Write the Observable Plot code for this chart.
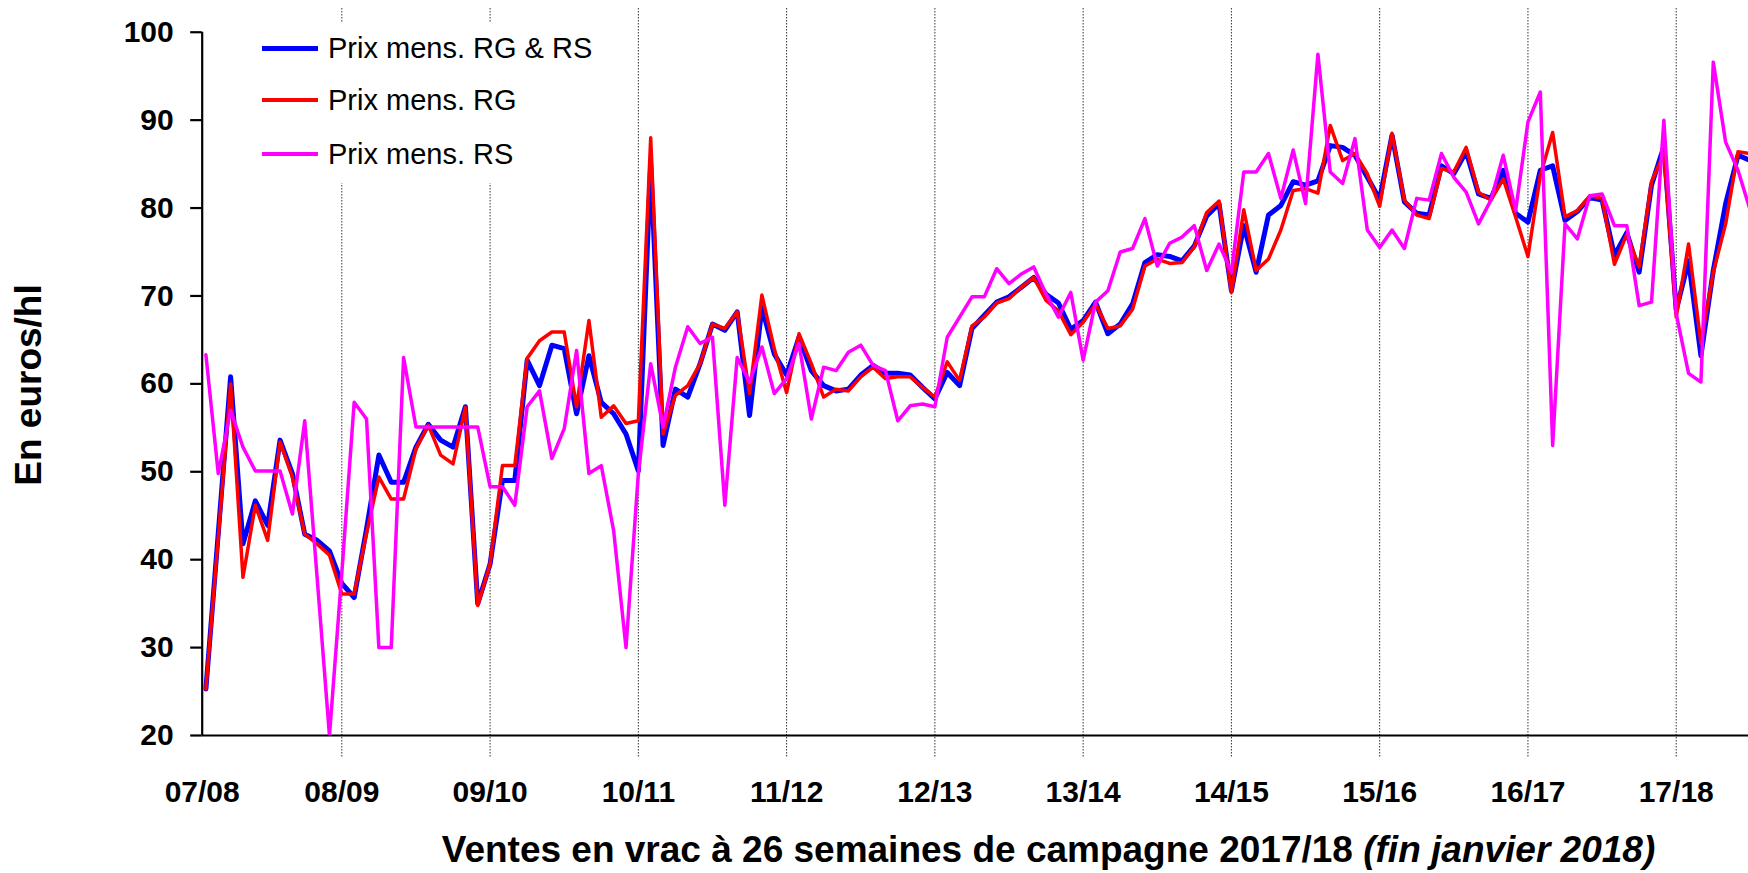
<!DOCTYPE html>
<html>
<head>
<meta charset="utf-8">
<script src="https://cdn.jsdelivr.net/npm/d3@7"></script>
<script src="https://cdn.jsdelivr.net/npm/@observablehq/plot@0.6"></script>
<style>
  html, body { margin: 0; padding: 0; background: #fff; }
  #wrap { position: relative; width: 1748px; height: 873px; overflow: hidden; font-family: "Liberation Sans", Arial, sans-serif; }
  #chart { position: absolute; left: 0; top: 0; }
  #legend { position: absolute; left: 252px; top: 23px; width: 355px; height: 160px; background: #fff; }
  .sw { position: absolute; left: 10px; width: 56px; }
  .lt { position: absolute; left: 76px; font-size: 29px; line-height: 29px; white-space: nowrap; color: #000; }
  #ytitle { position: absolute; left: 28px; top: 385px; transform: translate(-50%, -50%) rotate(-90deg); font-size: 37px; line-height: 37px; font-weight: bold; white-space: nowrap; }
  #xtitle { position: absolute; left: 0; width: 2097px; top: 831px; text-align: center; font-size: 37px; line-height: 37px; font-weight: bold; white-space: nowrap; }
</style>
</head>
<body>
<div id="wrap">
  <div id="chart"></div>
  <div id="legend"></div>
  <div id="ytitle"></div>
  <div id="xtitle"></div>
</div>
<script>
// Campaign labels (one per marketing year)
const campagnes = ["07/08","08/09","09/10","10/11","11/12","12/13","13/14","14/15","15/16","16/17","17/18"];
const yTicks = [20, 30, 40, 50, 60, 70, 80, 90, 100];

// Monthly prices (euros/hl), August 2007 .. January 2018
const prixRGRS = [
  25.3, 43.0, 60.8, 41.8, 46.7, 43.9, 53.6, 49.8, 42.9, 42.2, 41.0, 37.3,
  35.7, 43.5, 51.9, 48.8, 48.8, 52.8, 55.4, 53.6, 52.8, 57.4, 35.0, 39.5,
  49.0, 49.0, 62.7, 59.8, 64.4, 64.0, 56.6, 63.2, 57.9, 56.6, 54.3, 50.1,
  85.0, 53.0, 59.4, 58.5, 62.3, 66.8, 66.1, 68.2, 56.4, 68.7, 63.4, 61.0,
  65.3, 61.5, 59.8, 59.2, 59.4, 61.0, 62.1, 61.2, 61.2, 61.0, 59.6, 58.3,
  61.3, 59.8, 66.3, 67.8, 69.3, 69.9, 71.0, 72.1, 70.2, 69.2, 66.2, 67.2,
  69.3, 65.7, 66.8, 69.1, 73.8, 74.7, 74.5, 74.0, 75.7, 79.1, 80.5, 70.6,
  78.0, 72.7, 79.2, 80.3, 83.0, 82.6, 83.1, 87.1, 86.9, 86.0, 83.5, 81.0,
  88.3, 80.7, 79.4, 79.2, 84.8, 83.9, 86.4, 81.6, 81.1, 84.3, 79.4, 78.4,
  84.3, 84.8, 78.6, 79.6, 81.2, 80.9, 74.6, 77.2, 72.7, 82.6, 87.0, 68.4,
  74.0, 63.2, 72.9, 80.5, 86.0, 85.4
];
const prixRG = [
  25.3, 42.5, 60.0, 38.0, 46.2, 42.2, 53.4, 49.4, 42.9, 41.8, 40.5, 36.1,
  36.1, 43.0, 49.4, 46.9, 46.9, 52.6, 55.3, 51.9, 50.9, 57.3, 34.8, 39.5,
  50.7, 50.7, 62.9, 64.9, 65.9, 65.9, 57.4, 67.2, 56.2, 57.5, 55.5, 55.8,
  88.0, 54.3, 58.7, 59.8, 62.3, 66.8, 66.3, 68.2, 58.9, 70.1, 64.0, 59.0,
  65.7, 62.3, 58.5, 59.4, 59.2, 60.8, 61.9, 60.6, 60.8, 60.8, 59.6, 58.5,
  62.5, 60.4, 66.6, 67.6, 69.2, 69.7, 71.0, 72.1, 69.5, 68.3, 65.6, 67.0,
  69.1, 66.3, 66.6, 68.5, 73.4, 74.2, 73.7, 73.8, 75.6, 79.5, 80.8, 70.4,
  79.8, 72.9, 74.2, 77.5, 82.0, 82.2, 81.7, 89.4, 85.4, 86.2, 83.9, 80.2,
  88.5, 80.9, 79.2, 78.8, 84.5, 84.1, 86.9, 81.8, 80.9, 83.3, 79.0, 74.5,
  83.7, 88.6, 79.0, 79.7, 81.4, 81.1, 73.6, 77.0, 73.3, 83.0, 86.2, 67.6,
  75.9, 64.6, 72.7, 78.2, 86.4, 86.2
];
const prixRS = [
  63.3, 49.8, 57.0, 52.8, 50.1, 50.1, 50.1, 45.2, 55.8, 38.0, 20.0, 38.5,
  57.9, 56.0, 30.0, 30.0, 63.0, 55.1, 55.1, 55.1, 55.1, 55.1, 55.1, 48.3,
  48.3, 46.2, 57.4, 59.2, 51.5, 54.9, 63.8, 49.8, 50.7, 43.3, 30.0, 49.8,
  62.3, 55.1, 61.9, 66.5, 64.6, 65.3, 46.2, 63.0, 60.2, 64.2, 58.9, 60.6,
  64.6, 56.0, 61.9, 61.5, 63.6, 64.4, 62.1, 61.5, 55.8, 57.5, 57.7, 57.4,
  65.3, 67.6, 69.9, 69.9, 73.1, 71.4, 72.5, 73.3, 70.2, 67.6, 70.4, 62.7,
  69.3, 70.6, 75.0, 75.4, 78.8, 73.4, 76.0, 76.7, 78.0, 72.9, 75.9, 72.7,
  84.1, 84.1, 86.2, 81.1, 86.6, 80.5, 97.5, 84.1, 82.8, 87.9, 77.5, 75.5,
  77.5, 75.4, 81.1, 80.9, 86.2, 83.5, 81.8, 78.2, 80.9, 86.0, 79.7, 89.8,
  93.2, 53.0, 78.2, 76.5, 81.4, 81.6, 78.0, 78.0, 68.9, 69.3, 90.0, 68.0,
  61.2, 60.2, 96.6, 87.5, 84.3, 79.7
];

const series = [
  {name: "Prix mens. RG & RS", values: prixRGRS, color: "#0000ff", width: 5},
  {name: "Prix mens. RG",      values: prixRG,   color: "#ff0000", width: 3.5},
  {name: "Prix mens. RS",      values: prixRS,   color: "#ff00ff", width: 3.5}
];

const MONTHS = 12;
const xStart = -0.3;
const xEnd = 124.85;
// campaign boundary (July of each campaign) as month index
const tickPos = campagnes.map((c, k) => k === 0 ? xStart : MONTHS * k - 1);
const gridPos = tickPos.slice(1);
const labelOf = new Map(tickPos.map((p, k) => [p, campagnes[k]]));

const lineMarks = series.map(s =>
  Plot.line(s.values.map((v, i) => ({i, v})), {
    x: "i", y: "v", stroke: s.color, strokeWidth: s.width,
    strokeLinejoin: "round", strokeLinecap: "round", clip: true
  })
);

const chart = Plot.plot({
  width: 1748,
  height: 810,
  marginTop: 8,
  marginBottom: 75,
  marginLeft: 201.7,
  marginRight: 0,
  style: {fontFamily: "'Liberation Sans', Arial, sans-serif", background: "transparent", color: "#000"},
  x: {domain: [xStart, xEnd]},
  y: {domain: [20, 102.7]},
  marks: [
    Plot.ruleX(gridPos, {stroke: "#333", strokeWidth: 1, strokeDasharray: "1.5,1.5", insetBottom: -22}),
    Plot.ruleY([20], {stroke: "#000", strokeWidth: 2.2}),
    Plot.ruleX([xStart], {y1: 20, y2: 100, stroke: "#000", strokeWidth: 2.2}),
    Plot.axisY({ticks: yTicks, tickSize: 11.5, tickPadding: 17, fontSize: 30, fontWeight: "bold", label: null, strokeWidth: 2.2}),
    Plot.axisX({ticks: tickPos, tickFormat: d => labelOf.get(d), tickSize: 0, tickPadding: 45, fontSize: 30, fontWeight: "bold", label: null}),
    ...lineMarks
  ]
});
document.getElementById("chart").appendChild(chart);

// Legend (inside plot, top-left, white box)
const legend = document.getElementById("legend");
const rowCenters = [25, 77, 131];
series.forEach((s, k) => {
  const sw = document.createElement("div");
  sw.className = "sw";
  sw.style.background = s.color;
  sw.style.height = s.width + "px";
  sw.style.top = (rowCenters[k] - s.width / 2) + "px";
  legend.appendChild(sw);
  const t = document.createElement("div");
  t.className = "lt";
  t.textContent = s.name;
  t.style.top = (rowCenters[k] - 14.5) + "px";
  legend.appendChild(t);
});

document.getElementById("ytitle").textContent = "En euros/hl";
const xt = document.getElementById("xtitle");
xt.append("Ventes en vrac à 26 semaines de campagne 2017/18 ");
const it = document.createElement("i");
it.textContent = "(fin janvier 2018)";
xt.appendChild(it);
</script>
</body>
</html>
